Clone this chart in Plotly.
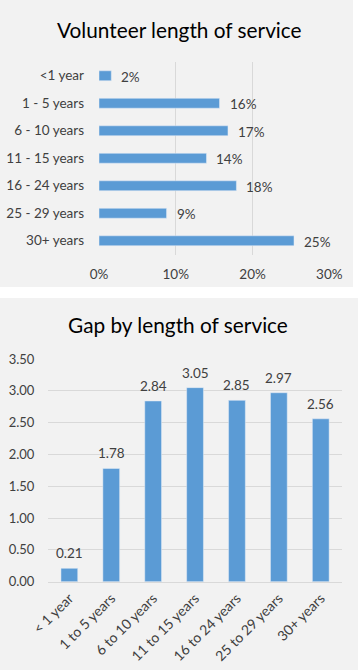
import plotly.graph_objects as go

W, H = 358, 670

# Top chart data
top_categories = ["<1 year", "1 - 5 years", "6 - 10 years", "11 - 15 years",
                  "16 - 24 years", "25 - 29 years", "30+ years"]
top_values = [1.6, 15.7, 16.8, 14.0, 17.9, 8.8, 25.4]
top_labels = ["2%", "16%", "17%", "14%", "18%", "9%", "25%"]
top_ticks = [0, 10, 20, 30]
top_ticktext = ["0%", "10%", "20%", "30%"]

# Bottom chart data
bot_categories = ["< 1 year", "1 to 5 years", "6 to 10 years", "11 to 15 years",
                  "16 to 24 years", "25 to 29 years", "30+ years"]
bot_values = [0.21, 1.78, 2.84, 3.05, 2.85, 2.97, 2.56]
bot_ticks = [0, 0.5, 1.0, 1.5, 2.0, 2.5, 3.0, 3.5]

BAR = "#5b9bd5"
GRID = "#d9d9d9"
BG = "#f2f2f2"
TXT = "#404040"
FONT = "Lato"
FS = 13.5

def py(px):
    return 1 - px / H

fig = go.Figure()

fig.add_trace(go.Bar(
    x=top_values, y=top_categories, orientation="h",
    marker_color=BAR, width=0.36,
    xaxis="x", yaxis="y", hoverinfo="skip",
))
fig.add_trace(go.Bar(
    x=bot_categories, y=bot_values,
    marker_color=BAR, width=0.4,
    xaxis="x2", yaxis="y2", hoverinfo="skip",
))

annotations = []
for c, v, t in zip(top_categories, top_values, top_labels):
    annotations.append(dict(x=v, y=c, xref="x", yref="y", text=t, showarrow=False,
                            xanchor="left", xshift=8, yshift=-1,
                            font=dict(size=FS, color=TXT, family=FONT)))
for c, v in zip(bot_categories, bot_values):
    annotations.append(dict(x=c, y=v, xref="x2", yref="y2", text=f"{v:.2f}",
                            showarrow=False, yanchor="bottom", yshift=5,
                            font=dict(size=FS, color=TXT, family=FONT)))
annotations.append(dict(x=179 / W, y=py(29), xref="paper", yref="paper",
                        text="Volunteer length of service", showarrow=False,
                        xanchor="center", yanchor="middle",
                        font=dict(size=20.8, color="#000000", family=FONT)))
annotations.append(dict(x=178 / W, y=py(325), xref="paper", yref="paper",
                        text="Gap by length of service", showarrow=False,
                        xanchor="center", yanchor="middle",
                        font=dict(size=20.8, color="#000000", family=FONT)))

shapes = [
    dict(type="rect", xref="paper", yref="paper", x0=0, x1=353 / W,
         y0=py(287), y1=1, fillcolor=BG, line_width=0, layer="below"),
    dict(type="rect", xref="paper", yref="paper", x0=0, x1=1,
         y0=0, y1=py(298), fillcolor=BG, line_width=0, layer="below"),
]

fig.update_layout(
    width=W, height=H,
    margin=dict(l=0, r=0, t=0, b=0, autoexpand=False),
    paper_bgcolor="#ffffff", plot_bgcolor="rgba(0,0,0,0)",
    showlegend=False,
    font=dict(family=FONT, size=FS, color=TXT),
    annotations=annotations, shapes=shapes,
    xaxis=dict(domain=[99 / W, 329.3 / W], range=[0, 30], tickvals=top_ticks,
               ticktext=top_ticktext, showgrid=True, gridcolor=GRID, gridwidth=1,
               zeroline=False, showline=False, anchor="y", automargin=False,
               ticklabelstandoff=10, fixedrange=True),
    yaxis=dict(domain=[py(254.5), py(62)], range=[6.5, -0.5], type="category",
               showgrid=False, zeroline=False, showline=False, anchor="x",
               automargin=False, ticklabelstandoff=14, fixedrange=True),
    xaxis2=dict(domain=[48.4 / W, 341.7 / W], type="category", range=[-0.5, 6.5],
                tickangle=-45, showgrid=False, zeroline=False, showline=True,
                linecolor=GRID, linewidth=1, anchor="y2", automargin=False,
                fixedrange=True, tickfont=dict(size=14), ticklabelstandoff=2),
    yaxis2=dict(domain=[py(581.7), py(359)], range=[0, 3.5], tickvals=bot_ticks,
                tickformat=".2f", showgrid=True, gridcolor=GRID, gridwidth=1,
                zeroline=False, showline=False, anchor="x2", automargin=False,
                ticklabelstandoff=13, fixedrange=True, tickfont=dict(size=13)),
)

fig.write_html("out.html", config={"displayModeBar": False},
               post_script="document.body.style.margin='0';document.body.style.padding='0';")
